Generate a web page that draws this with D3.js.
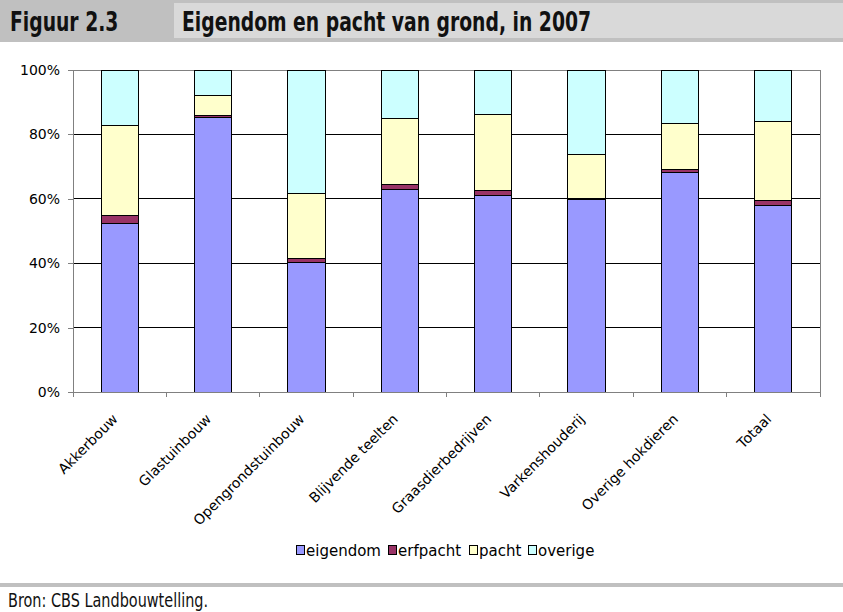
<!DOCTYPE html>
<html>
<head>
<meta charset="utf-8">
<script src="https://cdn.jsdelivr.net/npm/d3@7"></script>
<style>
  html, body { margin: 0; padding: 0; background: #fff; }
  svg { display: block; }
</style>
</head>
<body>
<svg id="chart" width="843" height="612"></svg>
<script>
// ---- data ----
const categories = ["Akkerbouw", "Glastuinbouw", "Opengrondstuinbouw", "Blijvende teelten",
  "Graasdierbedrijven", "Varkenshouderij", "Overige hokdieren", "Totaal"];
const seriesNames = ["eigendom", "erfpacht", "pacht", "overige"];
const eigendom = [52.2, 85.3, 40.3, 63.0, 61.1, 59.9, 68.3, 57.8];
const erfpacht = [2.7, 0.7, 1.2, 1.5, 1.5, 0.3, 0.7, 1.7];
const pacht    = [27.9, 6.2, 20.2, 20.5, 23.6, 13.7, 14.5, 24.4];
const overige  = [17.2, 7.8, 38.3, 15.0, 13.8, 26.1, 16.5, 16.1];
const yTicks = [0, 20, 40, 60, 80, 100];
const titleLabel = "Figuur 2.3";
const titleText = "Eigendom en pacht van grond, in 2007";
const sourceText = "Bron: CBS Landbouwtelling.";

const colors = { eigendom: "#9999FF", erfpacht: "#993366", pacht: "#FFFFCC", overige: "#CCFFFF" };
const font = "'DejaVu Sans', Verdana, sans-serif";
const squeeze = 0.722; // condensed look of header/footer typeface

const svg = d3.select("#chart");

// ---- header ----
svg.append("rect").attr("x", 0).attr("y", 0).attr("width", 843).attr("height", 42).attr("fill", "#c0c0c0");
svg.append("rect").attr("x", 174).attr("y", 3).attr("width", 669).attr("height", 35).attr("fill", "#d9d9d9");
svg.append("text").attr("transform", `translate(10,31) scale(${squeeze},1)`)
  .attr("font-family", font).attr("font-weight", "bold")
  .attr("font-size", 26).attr("fill", "#111").text(titleLabel);
svg.append("text").attr("transform", `translate(182,31) scale(${squeeze},1)`)
  .attr("font-family", font).attr("font-weight", "bold")
  .attr("font-size", 26).attr("fill", "#111").text(titleText);

// ---- footer ----
svg.append("rect").attr("x", 0).attr("y", 583).attr("width", 843).attr("height", 4).attr("fill", "#c0c0c0");
svg.append("text").attr("transform", `translate(8,607) scale(${squeeze},1)`)
  .attr("font-family", font)
  .attr("font-size", 20).attr("fill", "#111").text(sourceText);

// ---- plot ----
const pLeft = 73, pRight = 820, pTop = 70, pBottom = 392;
const x = d3.scaleBand().domain(categories).range([pLeft, pRight]).paddingInner(0.6).paddingOuter(0.3);
const y = d3.scaleLinear().domain([0, 100]).range([pBottom, pTop]);

const rows = categories.map((c, i) => ({
  cat: c, eigendom: eigendom[i], erfpacht: erfpacht[i], pacht: pacht[i], overige: overige[i]
}));
const stacked = d3.stack().keys(seriesNames)(rows);

// gridlines
svg.append("g").selectAll("line").data(yTicks.filter(t => t > 0 && t < 100)).join("line")
  .attr("x1", pLeft).attr("x2", pRight).attr("y1", d => y(d)).attr("y2", d => y(d))
  .attr("stroke", "#000").attr("stroke-width", 1).attr("shape-rendering", "crispEdges");
// plot border top/right
svg.append("path").attr("d", `M${pLeft},${y(100)}H${pRight}V${pBottom}`)
  .attr("fill", "none").attr("stroke", "#808080").attr("stroke-width", 1).attr("shape-rendering", "crispEdges");

// bars
svg.append("g").selectAll("g").data(stacked).join("g")
  .attr("fill", d => colors[d.key])
  .selectAll("rect").data(d => d).join("rect")
  .attr("x", d => x(d.data.cat))
  .attr("width", x.bandwidth())
  .attr("y", d => y(d[1]))
  .attr("height", d => y(d[0]) - y(d[1]))
  .attr("stroke", "#000").attr("stroke-width", 1).attr("shape-rendering", "crispEdges");

// y axis
const yAxis = svg.append("g").attr("transform", `translate(${pLeft},0)`)
  .call(d3.axisLeft(y).tickValues(yTicks).tickFormat(d => d + "%").tickSize(5).tickPadding(8));
yAxis.select(".domain").attr("stroke", "#808080").attr("shape-rendering", "crispEdges");
yAxis.selectAll(".tick line").attr("stroke", "#808080").attr("shape-rendering", "crispEdges");
yAxis.selectAll("text").attr("font-family", font).attr("font-size", 14).attr("fill", "#000");

// x axis: line and ticks at category boundaries
const boundaries = d3.range(categories.length + 1).map(i => pLeft + i * x.step());
svg.append("line").attr("x1", pLeft).attr("x2", pRight).attr("y1", pBottom).attr("y2", pBottom)
  .attr("stroke", "#808080").attr("shape-rendering", "crispEdges");
svg.append("g").selectAll("line").data(boundaries).join("line")
  .attr("x1", d => d).attr("x2", d => d).attr("y1", pBottom).attr("y2", pBottom + 5)
  .attr("stroke", "#808080").attr("shape-rendering", "crispEdges");

// x labels
svg.append("g").selectAll("text").data(categories).join("text")
  .attr("transform", d => `translate(${x(d) + x.bandwidth() / 2 - 1},${pBottom + 28}) rotate(-45)`)
  .attr("text-anchor", "end")
  .attr("font-family", font).attr("font-size", 14).attr("fill", "#000")
  .text(d => d);

// legend
const legendX = [296, 388, 469, 528];
const lg = svg.append("g").selectAll("g").data(seriesNames).join("g")
  .attr("transform", (d, i) => `translate(${legendX[i]},0)`);
lg.append("rect").attr("x", 0.5).attr("y", 545.5).attr("width", 8).attr("height", 9)
  .attr("fill", d => colors[d]).attr("stroke", "#000").attr("stroke-width", 1);
lg.append("text").attr("x", 10).attr("y", 556).attr("font-family", font).attr("font-size", 15)
  .attr("fill", "#000").text(d => d);
</script>
</body>
</html>
